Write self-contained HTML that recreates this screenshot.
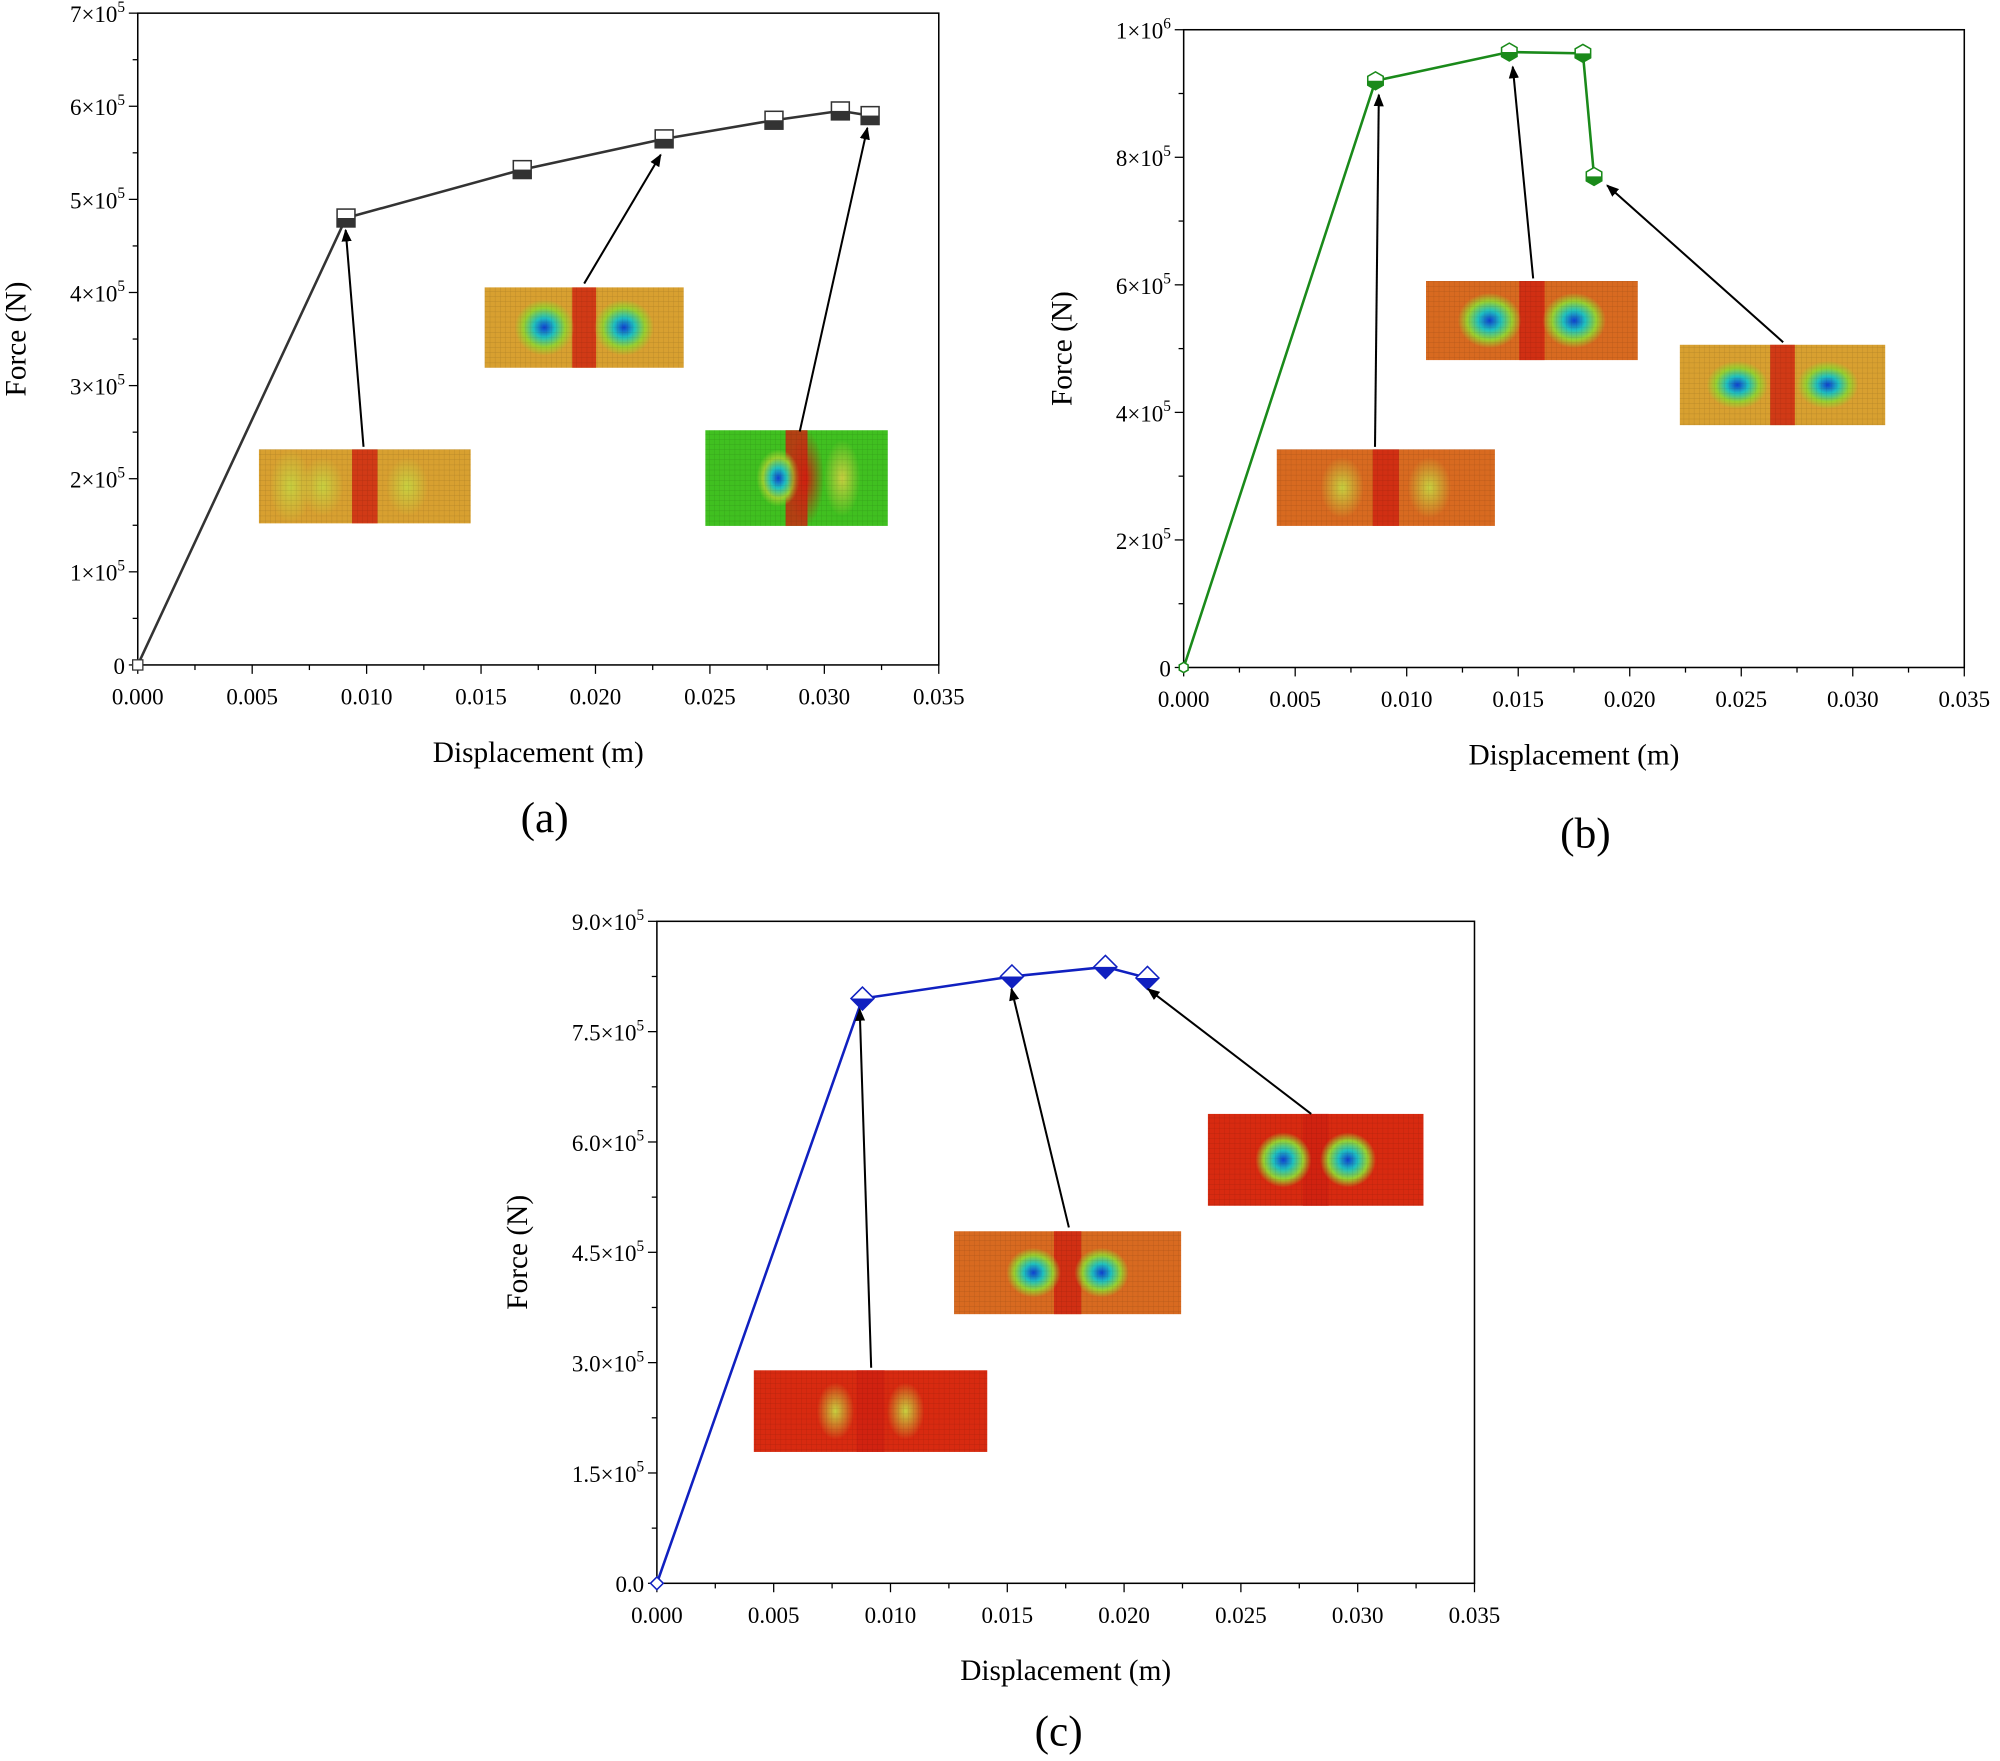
<!DOCTYPE html>
<html><head><meta charset="utf-8">
<style>html,body{margin:0;padding:0;background:#fff}svg{display:block}</style>
</head><body>
<svg id="s" width="2000" height="1761" viewBox="0 0 1568 1380" xmlns="http://www.w3.org/2000/svg" font-family="Liberation Serif, serif">
<defs>
<marker id="ar" markerWidth="10" markerHeight="10" refX="9" refY="5" orient="auto" markerUnits="userSpaceOnUse"><path d="M0,1 L10,5 L0,9 z" fill="#000"/></marker>
<radialGradient id="gb"><stop offset="0" stop-color="#1040d0"/><stop offset="0.35" stop-color="#20c0c0"/><stop offset="0.7" stop-color="#9ad030"/><stop offset="1" stop-color="#9ad030" stop-opacity="0"/></radialGradient>
<radialGradient id="gy"><stop offset="0" stop-color="#c8d040"/><stop offset="1" stop-color="#c8d040" stop-opacity="0"/></radialGradient>
<radialGradient id="gr"><stop offset="0" stop-color="#d02010"/><stop offset="1" stop-color="#d02010" stop-opacity="0"/></radialGradient>
<pattern id="mesh" width="4" height="4" patternUnits="userSpaceOnUse"><path d="M0,0 H4 M0,0 V4" stroke="#000" stroke-opacity="0.18" stroke-width="0.5"/></pattern>
</defs>
<g id="g"></g>
</svg>
<script>
var out='';
function L(x1,y1,x2,y2,c,w){out+='<line x1="'+x1+'" y1="'+y1+'" x2="'+x2+'" y2="'+y2+'" stroke="'+(c||'#000')+'" stroke-width="'+(w||1)+'"/>';}
function T(x,y,s,sz,anc,extra){out+='<text x="'+x+'" y="'+y+'" font-size="'+sz+'" text-anchor="'+(anc||'middle')+'" '+(extra||'')+'>'+s+'</text>';}
function panel(o){
 var X0=o.x0,X1=o.x1,Y0=o.y0,Y1=o.y1;
 out+='<rect x="'+X0+'" y="'+Y0+'" width="'+(X1-X0)+'" height="'+(Y1-Y0)+'" fill="none" stroke="#000" stroke-width="1.2"/>';
 var fx=function(v){return X0+(X1-X0)*v/0.035;}, fy=function(v){return Y1-(Y1-Y0)*v/o.ymax;};
 for(var i=0;i<=14;i++){var v=i*0.0025,x=fx(v);L(x,Y1,x,Y1+(i%2?4:7));
  if(i%2==0)T(x,Y1+31,(v).toFixed(3),18);}
 var n=o.ny;
 for(var i=0;i<=n*2;i++){var v=o.ymax*i/(n*2),y=fy(v);L(X0,y,X0-(i%2?4:7),y);
  if(i%2==0)T(X0-10,y+7,o.lab(i/2),18,'end');}
 T((X0+X1)/2,Y1+76,'Displacement (m)',23);
 var cy=(Y0+Y1)/2;T(X0-o.ylx,cy,'Force (N)',23,'middle','transform="rotate(-90 '+(X0-o.ylx)+' '+cy+')"');
 T(o.lx,o.ly,o.label,34);
 var pts=o.d.map(function(p){return [fx(p[0]),fy(p[1])];});
 out+='<polyline fill="none" stroke="'+o.c+'" stroke-width="2" points="'+pts.map(function(p){return p.join(',')}).join(' ')+'"/>';
 pts.forEach(function(p,i){o.mk(p[0],p[1],i==0);});
 o.ins.forEach(function(r){inset(r[0],r[1],r[2],r[3],r[4]);});
 o.arr.forEach(function(a){out+='<line x1="'+a[0]+'" y1="'+a[1]+'" x2="'+a[2]+'" y2="'+a[3]+'" stroke="#000" stroke-width="1.6" marker-end="url(#ar)"/>';});
}
function inset(x1,y1,x2,y2,t){
 var w=x2-x1,h=y2-y1,base={y:'#d8a030',o:'#d86a20',r:'#d82a10',g:'#40c020'}[t.b];
 out+='<rect x="'+x1+'" y="'+y1+'" width="'+w+'" height="'+h+'" fill="'+base+'"/>';
 out+='<rect x="'+(x1+w*0.44)+'" y="'+y1+'" width="'+(w*0.12)+'" height="'+h+'" fill="#d02010" opacity="0.8"/>';
 (t.s||[]).forEach(function(s){out+='<ellipse cx="'+(x1+w*s[0])+'" cy="'+(y1+h*0.5)+'" rx="'+(w*s[1])+'" ry="'+(h*s[2])+'" fill="url(#'+s[3]+')"/>';});
 out+='<rect x="'+x1+'" y="'+y1+'" width="'+w+'" height="'+h+'" fill="url(#mesh)"/>';
}
function sq(x,y,first){if(first){out+='<rect x="'+(x-4)+'" y="'+(y-4)+'" width="8" height="8" fill="#fff" stroke="#333"/>';return;}
 out+='<rect x="'+(x-7)+'" y="'+(y-7)+'" width="14" height="14" fill="#fff" stroke="#333" stroke-width="1.2"/><rect x="'+(x-7)+'" y="'+y+'" width="14" height="7" fill="#333"/>';}
function hex(x,y,first){var r=first?4:7,p=[];for(var k=0;k<6;k++){var a=Math.PI/3*k+Math.PI/6;p.push((x+r*Math.cos(a))+','+(y+r*Math.sin(a)));}
 out+='<polygon points="'+p.join(' ')+'" fill="#fff" stroke="#1a8a1a" stroke-width="1.2"/>';
 if(!first)out+='<polygon points="'+(x-6)+','+y+' '+(x+6)+','+y+' '+(x+6)+','+(y+3.5)+' '+x+','+(y+7)+' '+(x-6)+','+(y+3.5)+'" fill="#1a8a1a"/>';}
function dia(x,y,first){var r=first?5:9;
 out+='<polygon points="'+x+','+(y-r)+' '+(x+r)+','+y+' '+x+','+(y+r)+' '+(x-r)+','+y+'" fill="#fff" stroke="#1020c0" stroke-width="1.2"/>';
 if(!first)out+='<polygon points="'+(x-r)+','+y+' '+(x+r)+','+y+' '+x+','+(y+r)+'" fill="#1020c0"/>';}
var S=function(e){return '×10<tspan dy="-8" font-size="12">'+e+'</tspan>';};
panel({x0:108,x1:736,y0:10,y1:521,ymax:7e5,ny:7,lab:function(i){return i==0?'0':i+S(5);},ylx:88,
 lx:427,ly:652,label:'(a)',c:'#333',mk:sq,
 d:[[0,0],[0.0091,4.8e5],[0.0168,5.32e5],[0.0230,5.65e5],[0.0278,5.85e5],[0.0307,5.95e5],[0.0320,5.9e5]],
 ins:[[203,352,369,410,{b:'y',s:[[0.15,0.1,0.5,'gy'],[0.3,0.1,0.4,'gy'],[0.7,0.1,0.4,'gy']]}],[380,225,536,288,{b:'y',s:[[0.3,0.15,0.35,'gb'],[0.7,0.15,0.35,'gb']]}],[553,337,696,412,{b:'g',s:[[0.4,0.12,0.3,'gb'],[0.55,0.1,0.5,'gr'],[0.75,0.1,0.4,'gy']]}]],
 arr:[[285,350,271,180],[458,222,518,121],[627,338,680,100]]});
panel({x0:928,x1:1540,y0:23,y1:523,ymax:1e6,ny:5,lab:function(i){return i==0?'0':i==5?'1'+S(6):(2*i)+S(5);},ylx:88,
 lx:1243,ly:664,label:'(b)',c:'#1a8a1a',mk:hex,
 d:[[0,0],[0.0086,9.2e5],[0.0146,9.65e5],[0.0179,9.63e5],[0.0184,7.7e5]],
 ins:[[1001,352,1172,412,{b:'o',s:[[0.3,0.1,0.4,'gy'],[0.7,0.1,0.4,'gy']]}],[1118,220,1284,282,{b:'o',s:[[0.3,0.15,0.35,'gb'],[0.7,0.15,0.35,'gb']]}],[1317,270,1478,333,{b:'y',s:[[0.28,0.15,0.3,'gb'],[0.72,0.15,0.3,'gb']]}]],
 arr:[[1078,350,1081,74],[1202,218,1186,52],[1398,268,1260,145]]});
panel({x0:515,x1:1156,y0:722,y1:1241,ymax:9e5,ny:6,lab:function(i){return i==0?'0.0':(i*1.5).toFixed(1)+S(5);},ylx:102,
 lx:830,ly:1368,label:'(c)',c:'#1020c0',mk:dia,
 d:[[0,0],[0.0088,7.95e5],[0.0152,8.25e5],[0.0192,8.38e5],[0.0210,8.23e5]],
 ins:[[591,1074,774,1138,{b:'r',s:[[0.35,0.08,0.35,'gy'],[0.65,0.08,0.35,'gy']]}],[748,965,926,1030,{b:'o',s:[[0.35,0.12,0.3,'gb'],[0.65,0.12,0.3,'gb']]}],[947,873,1116,945,{b:'r',s:[[0.35,0.13,0.3,'gb'],[0.65,0.13,0.3,'gb']]}]],
 arr:[[683,1072,674,791],[838,962,793,775],[1028,873,900,775]]});
document.getElementById('g').innerHTML=out;
</script>
</body></html>
